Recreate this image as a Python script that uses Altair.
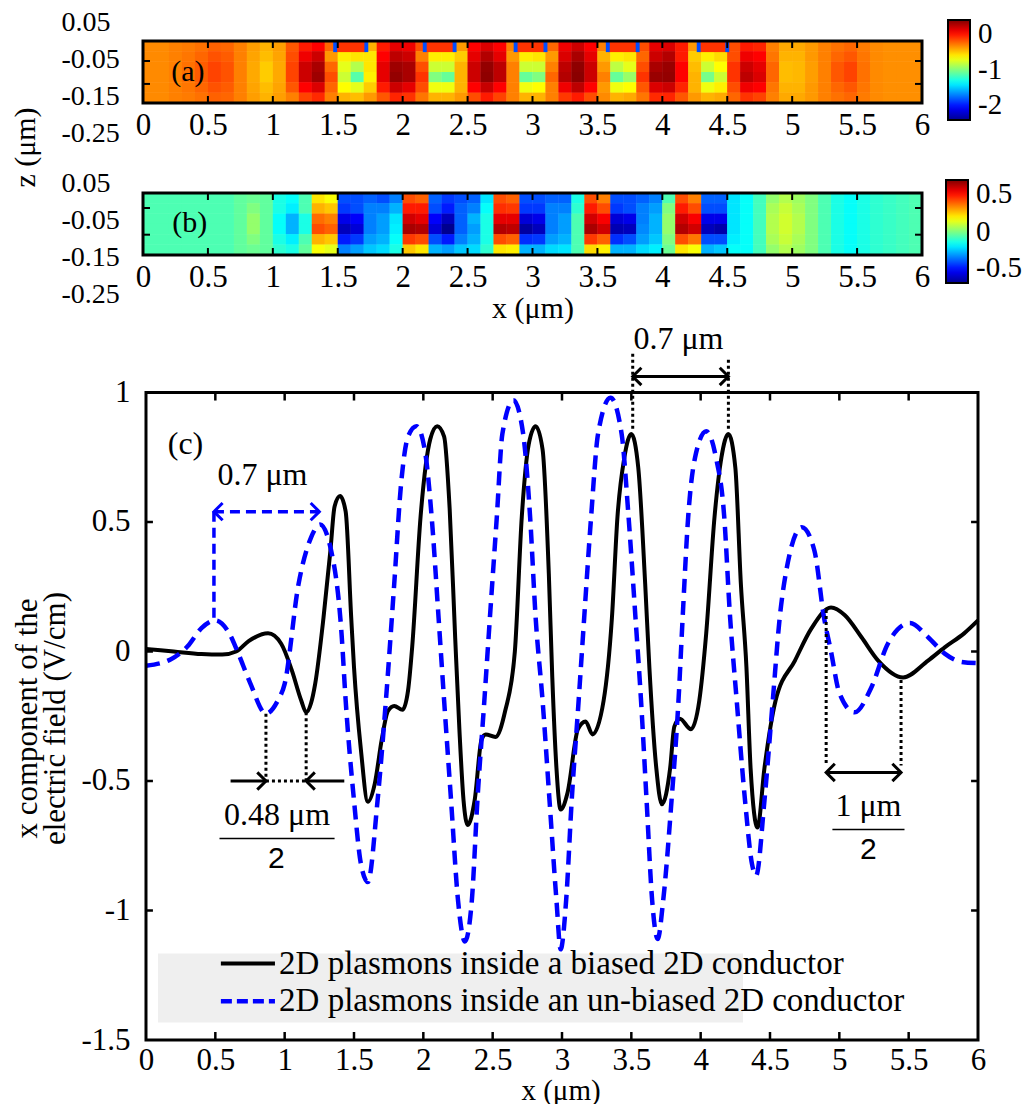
import altair as alt
import pandas as pd

FONT = "Liberation Serif"
JET = ["#00008f", "#0000ff", "#0080ff", "#00ffff", "#80ff80",
       "#ffff00", "#ff8000", "#ff0000", "#800000"]
NUM = "datum.value < 0 ? '-' + format(-datum.value, '~g') : format(datum.value, '~g')"

X_TICKS = [0, 0.5, 1, 1.5, 2, 2.5, 3, 3.5, 4, 4.5, 5, 5.5, 6]
INNER_X = X_TICKS[1:-1]
X_EDGES = [round(i * 0.1, 1) for i in range(61)]
Z_LABELS = [0.05, -0.05, -0.15, -0.25]

# ---------------- panel (a): potential map, rows top -> bottom ----------------
ZA_VIEW = [-0.2946, 0.1108]
ZA_EDGES = [0.0, -0.0279, -0.0559, -0.0838, -0.1117, -0.1397, -0.1676]
A_R0 = [-.52, -.52, -.50, -.49, -.47, -.44, -.45, -.50, -.56, -.60,
        -.56, -.42, -.30, -.25, -.45, -.35, -.35, -.60, -.30, -.20,
        -.22, -.40, -.35, -.35, -.55, -.25, -.18, -.25, -.50, -.35,
        -.35, -.45, -.22, -.15, -.25, -.50, -.35, -.35, -.40, -.20,
        -.18, -.30, -.55, -.35, -.38, -.40, -.30, -.32, -.50, -.58,
        -.58, -.55, -.50, -.47, -.45, -.49, -.52, -.53, -.53, -.53]
A_R1 = [-.52, -.52, -.50, -.48, -.45, -.41, -.43, -.50, -.57, -.62,
        -.57, -.40, -.22, -.15, -.55, -.72, -.70, -.70, -.25, -.12,
        -.15, -.50, -.72, -.72, -.65, -.20, -.10, -.20, -.55, -.72,
        -.70, -.55, -.18, -.08, -.20, -.60, -.72, -.70, -.45, -.15,
        -.10, -.30, -.65, -.72, -.68, -.40, -.22, -.25, -.48, -.60,
        -.60, -.55, -.50, -.45, -.42, -.48, -.52, -.53, -.53, -.53]
A_R2 = [-.52, -.52, -.50, -.47, -.43, -.38, -.41, -.50, -.58, -.65,
        -.58, -.38, -.15, -.08, -.45, -.80, -.90, -.70, -.20, -.06,
        -.08, -.40, -.85, -.85, -.60, -.15, -.04, -.12, -.50, -.85,
        -.85, -.50, -.12, -.03, -.15, -.55, -.88, -.80, -.40, -.08,
        -.05, -.25, -.62, -.85, -.75, -.35, -.15, -.20, -.45, -.62,
        -.61, -.56, -.50, -.42, -.38, -.47, -.52, -.53, -.53, -.53]
A_R3 = [-.52, -.52, -.50, -.47, -.43, -.38, -.41, -.50, -.58, -.65,
        -.58, -.38, -.15, -.06, -.40, -.85, -1.08, -.72, -.20, -.04,
        -.08, -.35, -1.00, -1.05, -.60, -.15, -.03, -.12, -.50, -1.05,
        -1.00, -.45, -.10, -.02, -.15, -.50, -1.05, -.95, -.35, -.05,
        -.04, -.25, -.60, -1.02, -.85, -.35, -.12, -.18, -.45, -.62,
        -.61, -.56, -.50, -.42, -.38, -.47, -.52, -.53, -.53, -.53]
A_R4 = [-.52, -.52, -.50, -.48, -.45, -.41, -.43, -.50, -.57, -.62,
        -.57, -.42, -.25, -.18, -.45, -.75, -.80, -.65, -.30, -.15,
        -.20, -.40, -.78, -.78, -.60, -.25, -.14, -.25, -.50, -.78,
        -.75, -.50, -.22, -.12, -.25, -.55, -.78, -.75, -.42, -.18,
        -.15, -.32, -.60, -.78, -.72, -.40, -.22, -.25, -.48, -.60,
        -.60, -.55, -.50, -.45, -.42, -.48, -.52, -.53, -.53, -.53]
A_R5 = [-.52, -.52, -.50, -.49, -.47, -.44, -.45, -.50, -.56, -.60,
        -.56, -.50, -.38, -.33, -.50, -.60, -.62, -.55, -.42, -.32,
        -.35, -.48, -.60, -.60, -.55, -.40, -.30, -.38, -.50, -.60,
        -.60, -.50, -.36, -.30, -.40, -.52, -.60, -.58, -.48, -.33,
        -.32, -.42, -.55, -.60, -.58, -.45, -.35, -.38, -.50, -.58,
        -.58, -.55, -.50, -.47, -.45, -.49, -.52, -.53, -.53, -.53]
GATE_START = [1.48, 2.17, 2.87, 3.58, 4.28]
GATE_END = [1.72, 2.40, 3.10, 3.81, 4.50]
GATE_DEPTH = -0.03
GATE_VAL = -0.35
TIP_VAL = -1.6
TIP_HALF = 0.015
ZA_TICKS = [-0.054, -0.116]

# ---------------- panel (b): field map ----------------
ZB_VIEW = [-0.3463, 0.1402]
ZB_EDGES = [0.024, -0.0039, -0.0318, -0.0597, -0.0876, -0.1155, -0.1436]
B_R0 = [-.05, -.05, -.05, -.05, -.05, -.05, -.05, -.03, -.02, -.03,
        -.10, -.12, -.05, .15, .12, -.30, -.30, -.28, -.30, -.25,
        .30, .28, -.28, -.32, -.30, -.28, -.15, .30, .28, -.30,
        -.30, -.28, -.28, -.10, .30, .25, -.30, -.30, -.28, -.25,
        -.05, .30, .25, -.28, -.28, -.15, -.12, -.06, .02, .05,
        .03, 0, -.05, -.10, -.12, -.10, -.08, -.07, -.06, -.05]
B_R1 = [-.05, -.05, -.05, -.05, -.05, -.05, -.05, -.03, 0, -.03,
        -.10, -.14, -.05, .20, .18, -.32, -.30, -.25, -.25, -.20,
        .35, .35, -.30, -.35, -.28, -.25, -.12, .33, .32, -.32,
        -.32, -.25, -.25, -.08, .35, .30, -.32, -.30, -.25, -.22,
        0, .35, .30, -.30, -.30, -.15, -.12, -.06, .04, .07,
        .04, 0, -.05, -.10, -.12, -.10, -.08, -.07, -.06, -.05]
B_R2 = [-.05, -.05, -.05, -.05, -.05, -.05, -.05, -.03, .02, -.03,
        -.12, -.20, -.10, .27, .25, -.40, -.38, -.25, -.22, -.15,
        .42, .40, -.38, -.45, -.28, -.20, -.10, .40, .40, -.42,
        -.40, -.25, -.22, -.05, .42, .38, -.42, -.40, -.25, -.20,
        .02, .42, .38, -.40, -.40, -.15, -.12, -.06, .05, .08,
        .05, 0, -.05, -.10, -.12, -.10, -.08, -.07, -.06, -.05]
B_R3 = [-.05, -.05, -.05, -.05, -.05, -.05, -.05, -.03, .02, -.03,
        -.12, -.20, -.10, .30, .28, -.45, -.42, -.25, -.22, -.14,
        .46, .45, -.42, -.50, -.28, -.22, -.10, .45, .44, -.48,
        -.45, -.25, -.22, -.05, .46, .42, -.46, -.45, -.24, -.20,
        .02, .45, .42, -.45, -.47, -.15, -.12, -.06, .05, .08,
        .05, 0, -.05, -.10, -.12, -.10, -.08, -.07, -.06, -.05]
B_R4 = [-.05, -.05, -.05, -.05, -.05, -.05, -.05, -.03, 0, -.03,
        -.10, -.14, -.05, .20, .18, -.35, -.32, -.22, -.20, -.12,
        .32, .30, -.30, -.35, -.25, -.20, -.10, .30, .28, -.33,
        -.32, -.22, -.20, -.05, .32, .28, -.33, -.30, -.22, -.18,
        0, .30, .26, -.30, -.30, -.14, -.12, -.06, .04, .07,
        .04, 0, -.05, -.10, -.12, -.10, -.08, -.07, -.06, -.05]
B_R5 = [-.05, -.05, -.05, -.05, -.05, -.05, -.05, -.03, -.02, -.03,
        -.08, -.10, -.03, .12, .10, -.25, -.22, -.18, -.16, -.10,
        .18, .15, -.20, -.22, -.18, -.16, -.08, .15, .14, -.20,
        -.20, -.16, -.15, -.05, .16, .14, -.20, -.20, -.16, -.14,
        -.02, .15, .12, -.20, -.18, -.12, -.12, -.06, .02, .05,
        .03, 0, -.05, -.10, -.12, -.10, -.08, -.07, -.06, -.05]
ZB_TICKS = [-0.0165, -0.0887]

# ---------------- panel (c): line profiles ----------------
BIASED_X = [0.00, 0.20, 0.40, 0.55, 0.65, 0.74, 0.88, 0.975, 1.05, 1.12,
            1.155, 1.19, 1.22, 1.28, 1.33, 1.36, 1.40, 1.44, 1.48, 1.50,
            1.55, 1.60, 1.65, 1.70, 1.745, 1.79, 1.85, 1.89, 1.92, 1.98,
            2.05, 2.10, 2.15, 2.19, 2.23, 2.26, 2.29, 2.32, 2.37, 2.42,
            2.45, 2.52, 2.59, 2.66, 2.71, 2.76, 2.81, 2.86, 2.905, 2.93,
            2.96, 2.99, 3.04, 3.115, 3.17, 3.22, 3.30, 3.36, 3.40, 3.45,
            3.50, 3.55, 3.60, 3.63, 3.68, 3.72, 3.78, 3.81, 3.85, 3.93,
            3.99, 4.04, 4.10, 4.15, 4.20, 4.25, 4.29, 4.33, 4.36, 4.41,
            4.46, 4.54, 4.68, 4.80, 4.94, 5.04, 5.16, 5.28, 5.46, 5.64,
            5.76, 5.90, 6.00]
BIASED_Y = [0.01, 0.00, -0.01, -0.012, 0.00, 0.04, 0.07, 0.03, -0.07, -0.19,
            -0.235, -0.20, -0.125, 0.13, 0.39, 0.56, 0.60, 0.54, 0.13, -0.06,
            -0.38, -0.58, -0.51, -0.34, -0.23, -0.21, -0.225, -0.15, 0.02, 0.52,
            0.82, 0.87, 0.83, 0.55, 0.05, -0.30, -0.575, -0.67, -0.575, -0.34,
            -0.32, -0.33, -0.23, 0.00, 0.52, 0.80, 0.87, 0.78, 0.30, -0.10,
            -0.45, -0.61, -0.545, -0.30, -0.27, -0.32, -0.19, 0.13, 0.52, 0.75,
            0.84, 0.71, 0.26, -0.06, -0.45, -0.59, -0.45, -0.29, -0.26, -0.30,
            -0.19, 0.07, 0.52, 0.75, 0.84, 0.71, 0.26, -0.06, -0.45, -0.68,
            -0.45, -0.19, -0.035, 0.09, 0.17, 0.14, 0.055, -0.035, -0.10, -0.035,
            0.016, 0.07, 0.12]
UNBIASED_X = [0.00, 0.18, 0.30, 0.40, 0.50, 0.60, 0.66, 0.75, 0.865, 0.95,
              1.00, 1.10, 1.19, 1.255, 1.335, 1.41, 1.44, 1.50, 1.55, 1.60,
              1.67, 1.73, 1.79, 1.84, 1.89, 1.95, 2.01, 2.06, 2.11, 2.15,
              2.20, 2.25, 2.30, 2.35, 2.39, 2.44, 2.48, 2.53, 2.57, 2.65,
              2.72, 2.77, 2.81, 2.86, 2.91, 2.96, 2.99, 3.03, 3.07, 3.12,
              3.16, 3.21, 3.26, 3.35, 3.43, 3.48, 3.53, 3.57, 3.61, 3.65,
              3.69, 3.73, 3.79, 3.84, 3.87, 3.91, 3.96, 4.04, 4.11, 4.17,
              4.21, 4.26, 4.32, 4.37, 4.40, 4.46, 4.52, 4.57, 4.62, 4.73,
              4.82, 4.89, 4.94, 5.00, 5.11, 5.23, 5.35, 5.51, 5.64, 5.76,
              5.88, 6.00]
UNBIASED_Y = [-0.055, -0.03, 0.02, 0.09, 0.12, 0.07, 0.00, -0.12, -0.24, -0.19,
              -0.125, 0.26, 0.44, 0.49, 0.39, 0.07, -0.19, -0.575, -0.82, -0.89,
              -0.575, -0.19, 0.26, 0.65, 0.83, 0.87, 0.78, 0.52, 0.13, -0.19,
              -0.575, -0.96, -1.12, -0.96, -0.575, -0.19, 0.13, 0.52, 0.84, 0.97,
              0.84, 0.52, 0.13, -0.19, -0.575, -0.96, -1.15, -0.96, -0.575, -0.19,
              0.13, 0.52, 0.84, 0.98, 0.84, 0.52, 0.13, -0.19, -0.575, -0.96,
              -1.11, -0.96, -0.575, -0.19, 0.13, 0.52, 0.75, 0.85, 0.75, 0.52,
              0.15, -0.19, -0.575, -0.82, -0.865, -0.575, -0.19, 0.13, 0.32, 0.48,
              0.39, 0.13, 0.00, -0.16, -0.235, -0.14, 0.03, 0.11, 0.055, -0.008,
              -0.04, -0.045]
C_X_VIEW = [-0.0216, 6.0]
C_Y_VIEW = [-1.5, 1.2413]
C_BOX = (0, -1.5, 6, 1)
Y_TICKS_C = [-1.5, -1, -0.5, 0, 0.5, 1]
INNER_Y_C = [-1, -0.5, 0, 0.5]

# annotation segments (x0, y0, x1, y1)
DOTTED = [(3.51, 0.86, 3.51, 1.15), (4.20, 0.86, 4.20, 1.13),
          (0.865, -0.24, 0.865, -0.5), (1.155, -0.235, 1.155, -0.5),
          (0.865, -0.5, 1.155, -0.5),
          (4.905, 0.16, 4.905, -0.44), (5.445, -0.11, 5.445, -0.44)]
ARROWS = [(3.51, 1.062, 4.20, 1.062), (0.61, -0.5, 0.865, -0.5),
          (1.43, -0.5, 1.155, -0.5), (4.905, -0.467, 5.445, -0.467)]
FRACTION_BARS = [(0.53, -0.722, 1.36, -0.722), (4.95, -0.687, 5.47, -0.687)]
BLUE_DASHED = [(0.49, 0.13, 0.49, 0.54), (0.49, 0.54, 1.25, 0.54)]
HEADS_X = [3.51, 4.20, 0.865, 1.155, 4.905, 5.445, 0.49, 1.25]
HEADS_Y = [1.062, 1.062, -0.5, -0.5, -0.467, -0.467, 0.54, 0.54]
HEADS_DIR = ["L", "R", "R", "L", "L", "R", "L", "R"]
HEADS_COL = ["black"] * 6 + ["#0000ff"] * 2
LABEL_X = [0.285, 0.84, 3.84, 0.945, 5.21]
LABEL_Y = [0.80, 0.68, 1.205, -0.633, -0.595]
LABEL_T = ["(c)", "0.7 μm", "0.7 μm", "0.48 μm", "1 μm"]
DENOM_X = [0.94, 5.21]
DENOM_Y = [-0.803, -0.768]
LEG_BOX = (0.087, -1.166, 4.305, -1.432)
LEG_LINE_X = (0.54, 0.93)
LEG_Y = [-1.205, -1.350]
LEG_TEXT_X = 0.96
LEG_LABELS = ["2D plasmons inside a biased 2D conductor",
              "2D plasmons inside an un-biased 2D conductor"]

for r in (A_R0, A_R1, A_R2, A_R3, A_R4, A_R5, B_R0, B_R1, B_R2, B_R3, B_R4, B_R5):
    assert len(r) == 60


def heat_frame(rows, z_edges, field):
    recs = []
    for ri, row in enumerate(rows):
        for ci, v in enumerate(row):
            recs.append({"x0": X_EDGES[ci], "x1": X_EDGES[ci + 1],
                         "z0": z_edges[ri], "z1": z_edges[ri + 1], field: v})
    return recs


def seg_layer(segs, color, width, dash=None):
    kw = dict(color=color, strokeWidth=width, strokeCap="butt")
    if dash:
        kw["strokeDash"] = dash
    return alt.Chart(pd.DataFrame(segs, columns=["x0", "y0", "x1", "y1"])).mark_rule(**kw).encode(
        x="x0:Q", x2="x1:Q", y="y0:Q", y2="y1:Q")


def frame_layer(box):
    return alt.Chart(pd.DataFrame([{"x0": box[0], "y0": box[1], "x1": box[2], "y1": box[3]}])).mark_rect(
        fillOpacity=0, stroke="black", strokeWidth=3).encode(
        x="x0:Q", x2="x1:Q", y="y0:Q", y2="y1:Q")


def map_panel(rows, z_edges, zview, view_h, field, cdomain, lvalues, legend_xy, glen,
              zticks, tag, tag_xy, xtitle, axis_offset, title_y, extra=None):
    recs = heat_frame(rows, z_edges, field)
    if extra:
        recs += extra
    df = pd.DataFrame(recs)
    cscale = alt.Scale(domain=cdomain, range=JET, interpolate="rgb", nice=False)
    xaxis = alt.Axis(values=X_TICKS, labelExpr=NUM, ticks=False, tickSize=0,
                     domain=False, grid=False, labelPadding=7, labelFontSize=31,
                     labelFont=FONT, labelFlush=False, labelOverlap=False,
                     offset=axis_offset, title=xtitle, titleFont=FONT, titleFontSize=30,
                     titleFontWeight="normal", titlePadding=1)
    yaxis = alt.Axis(values=Z_LABELS, labelExpr=NUM, ticks=False,
                     tickSize=0, domain=False, grid=False, labelAlign="left",
                     labelBaseline="middle", labelPadding=82, labelFontSize=28,
                     labelFont=FONT, labelOverlap=False, labelFlush=False,
                     title="z (μm)" if field == "va" else "",
                     titleFont=FONT, titleFontSize=30, titleFontWeight="normal",
                     titleX=-118, titleY=title_y, titleAngle=270, titleAlign="center",
                     titleBaseline="middle")
    legend = alt.Legend(type="gradient", orient="none", legendX=legend_xy[0], legendY=legend_xy[1],
                        direction="vertical", gradientLength=glen,
                        gradientThickness=22, values=lvalues, labelExpr=NUM,
                        labelFont=FONT, labelFontSize=29, labelOffset=8, title=None,
                        gradientStrokeColor="black", gradientStrokeWidth=2,
                        padding=0, labelBaseline="middle", labelOverlap=False)
    enc = dict(
        x=alt.X("x0:Q", scale=alt.Scale(domain=[0, 6], nice=False, zero=False), axis=xaxis),
        x2="x1:Q",
        y=alt.Y("z0:Q", scale=alt.Scale(domain=zview, nice=False, zero=False), axis=yaxis),
        y2="z1:Q",
        color=alt.Color(f"{field}:Q", scale=cscale, legend=legend),
    )
    heat = alt.Chart(df).mark_rect().encode(**enc)
    heat2 = alt.Chart(df).mark_rect().encode(**enc)
    tick_segs = []
    for xv in INNER_X:
        tick_segs.append((xv, z_edges[0], xv, z_edges[0] - 0.019))
        tick_segs.append((xv, z_edges[-1], xv, z_edges[-1] + 0.019))
    for zv in zticks:
        tick_segs.append((0, zv, 0.054, zv))
        tick_segs.append((6 - 0.054, zv, 6, zv))
    ticks = seg_layer(tick_segs, "black", 2)
    frame = frame_layer((0, z_edges[0], 6, z_edges[-1]))
    label = alt.Chart(pd.DataFrame({"x": [tag_xy[0]], "y": [tag_xy[1]], "t": [tag]})).mark_text(
        font=FONT, fontSize=30, color="black", align="center", baseline="middle"
    ).encode(x="x:Q", y="y:Q", text="t:N")
    return alt.layer(heat, heat2, ticks, frame, label).properties(width=779, height=view_h)


gate_recs = []
for s, e in zip(GATE_START, GATE_END):
    gate_recs.append({"x0": s, "x1": e, "z0": 0.0, "z1": GATE_DEPTH, "va": GATE_VAL})
for s, e in zip(GATE_START, GATE_END):
    for t in (s, e):
        gate_recs.append({"x0": t - TIP_HALF, "x1": t + TIP_HALF, "z0": 0.0,
                          "z1": GATE_DEPTH, "va": TIP_VAL})

panel_a = map_panel([A_R0, A_R1, A_R2, A_R3, A_R4, A_R5], ZA_EDGES, ZA_VIEW, 150, "va",
                    [-2, 0], [-2, -1, 0], (805, 20), 100, ZA_TICKS, "(a)", (0.345, -0.085),
                    "", -47, 147, extra=gate_recs)
panel_b = map_panel([B_R0, B_R1, B_R2, B_R3, B_R4, B_R5], ZB_EDGES, ZB_VIEW, 180, "vb",
                    [-0.5, 0.5], [-0.5, 0, 0.5], (803, 30), 103, ZB_TICKS, "(b)", (0.36, -0.058),
                    "x (μm)", -75, 0)

# ---------------- panel (c) ----------------
bdf = pd.DataFrame({"x": BIASED_X, "y": BIASED_Y})
udf = pd.DataFrame({"x": UNBIASED_X, "y": UNBIASED_Y})
cx_axis = alt.Axis(values=X_TICKS, labelExpr=NUM, ticks=False, tickSize=0, domain=False,
                   grid=False, labelPadding=5, labelFontSize=31, labelFont=FONT, labelFlush=False,
                   labelOverlap=False, title="x (μm)", titleFont=FONT, titleFontSize=29,
                   titleFontWeight="normal", titlePadding=1)
cy_axis = alt.Axis(values=Y_TICKS_C, labelExpr=NUM, ticks=False, tickSize=0, domain=False,
                   grid=False, labelPadding=13, labelFontSize=31, labelFont=FONT, labelFlush=False,
                   labelOverlap=False, labelBaseline="middle",
                   title=["x component of the", "electric field (V/cm)"], titleFont=FONT,
                   titleFontSize=31, titleFontWeight="normal", titleX=-116, titleY=388,
                   titleAngle=270, titleAlign="center", titleBaseline="middle",
                   titleLineHeight=28)
line_b = alt.Chart(bdf).mark_line(color="black", strokeWidth=4, interpolate="monotone").encode(
    x=alt.X("x:Q", scale=alt.Scale(domain=C_X_VIEW, nice=False, zero=False), axis=cx_axis),
    y=alt.Y("y:Q", scale=alt.Scale(domain=C_Y_VIEW, nice=False, zero=False), axis=cy_axis),
)
line_u = alt.Chart(udf).mark_line(color="#0000ff", strokeWidth=4.5, strokeDash=[14, 8],
                                  interpolate="monotone").encode(x="x:Q", y="y:Q")

dotted = seg_layer(DOTTED, "black", 3, dash=[3, 3])
arrows = seg_layer(ARROWS, "black", 3)
fracs = seg_layer(FRACTION_BARS, "black", 1.5)
blue_dash = seg_layer(BLUE_DASHED, "#0000ff", 3.5, dash=[10, 6])
PATH_L = "M 1 -1 L 0 0 L 1 1"
PATH_R = "M -1 -1 L 0 0 L -1 1"
heads = alt.Chart(pd.DataFrame({"x": HEADS_X, "y": HEADS_Y, "d": HEADS_DIR, "c": HEADS_COL})).mark_point(
    filled=False, strokeWidth=3, size=300, opacity=1
).encode(
    x="x:Q", y="y:Q",
    shape=alt.Shape("d:N", scale=alt.Scale(domain=["L", "R"], range=[PATH_L, PATH_R]), legend=None),
    color=alt.Color("c:N", scale=None),
)
labels = alt.Chart(pd.DataFrame({"x": LABEL_X, "y": LABEL_Y, "t": LABEL_T})).mark_text(
    font=FONT, fontSize=32, color="black", align="center", baseline="middle"
).encode(x="x:Q", y="y:Q", text="t:N")
denoms = alt.Chart(pd.DataFrame({"x": DENOM_X, "y": DENOM_Y, "t": ["2", "2"]})).mark_text(
    font="Liberation Sans", fontSize=30, color="black", align="center", baseline="middle"
).encode(x="x:Q", y="y:Q", text="t:N")

ctick_segs = []
for xv in INNER_X:
    ctick_segs.append((xv, 1, xv, 1 - 0.031))
    ctick_segs.append((xv, -1.5, xv, -1.5 + 0.031))
for yv in INNER_Y_C:
    ctick_segs.append((0, yv, 0.05, yv))
    ctick_segs.append((6 - 0.05, yv, 6, yv))
cticks = seg_layer(ctick_segs, "black", 2.5)
cframe = frame_layer(C_BOX)

leg_box = alt.Chart(pd.DataFrame([{"x0": LEG_BOX[0], "y0": LEG_BOX[1],
                                   "x1": LEG_BOX[2], "y1": LEG_BOX[3]}])).mark_rect(
    color="#efefef").encode(x="x0:Q", x2="x1:Q", y="y0:Q", y2="y1:Q")
leg_l1 = seg_layer([(LEG_LINE_X[0], LEG_Y[0], LEG_LINE_X[1], LEG_Y[0])], "black", 4)
leg_l2 = seg_layer([(LEG_LINE_X[0], LEG_Y[1], LEG_LINE_X[1], LEG_Y[1])], "#0000ff", 4.5,
                   dash=[11, 5])
leg_text = alt.Chart(pd.DataFrame({"x": [LEG_TEXT_X] * 2, "y": LEG_Y, "t": LEG_LABELS})).mark_text(
    font=FONT, fontSize=33, color="black", align="left", baseline="middle"
).encode(x="x:Q", y="y:Q", text="t:N")

panel_c = alt.layer(line_b, line_u, blue_dash, dotted, arrows, fracs, heads, labels, denoms,
                    cticks, cframe, leg_box, leg_l1, leg_l2, leg_text).properties(width=835, height=710)

chart = alt.vconcat(panel_a, panel_b, panel_c, spacing=0, bounds="flush").resolve_scale(
    color="independent"
).properties(
    padding={"left": 10, "top": 0, "right": 0, "bottom": 0}
).configure(
    background="white"
).configure_view(
    strokeWidth=0
).configure_axis(
    labelFont=FONT, titleFont=FONT, labelColor="black", titleColor="black"
).configure_legend(
    labelFont=FONT, labelColor="black"
)

chart.save("out.html", embed_options={"renderer": "svg", "actions": False})
